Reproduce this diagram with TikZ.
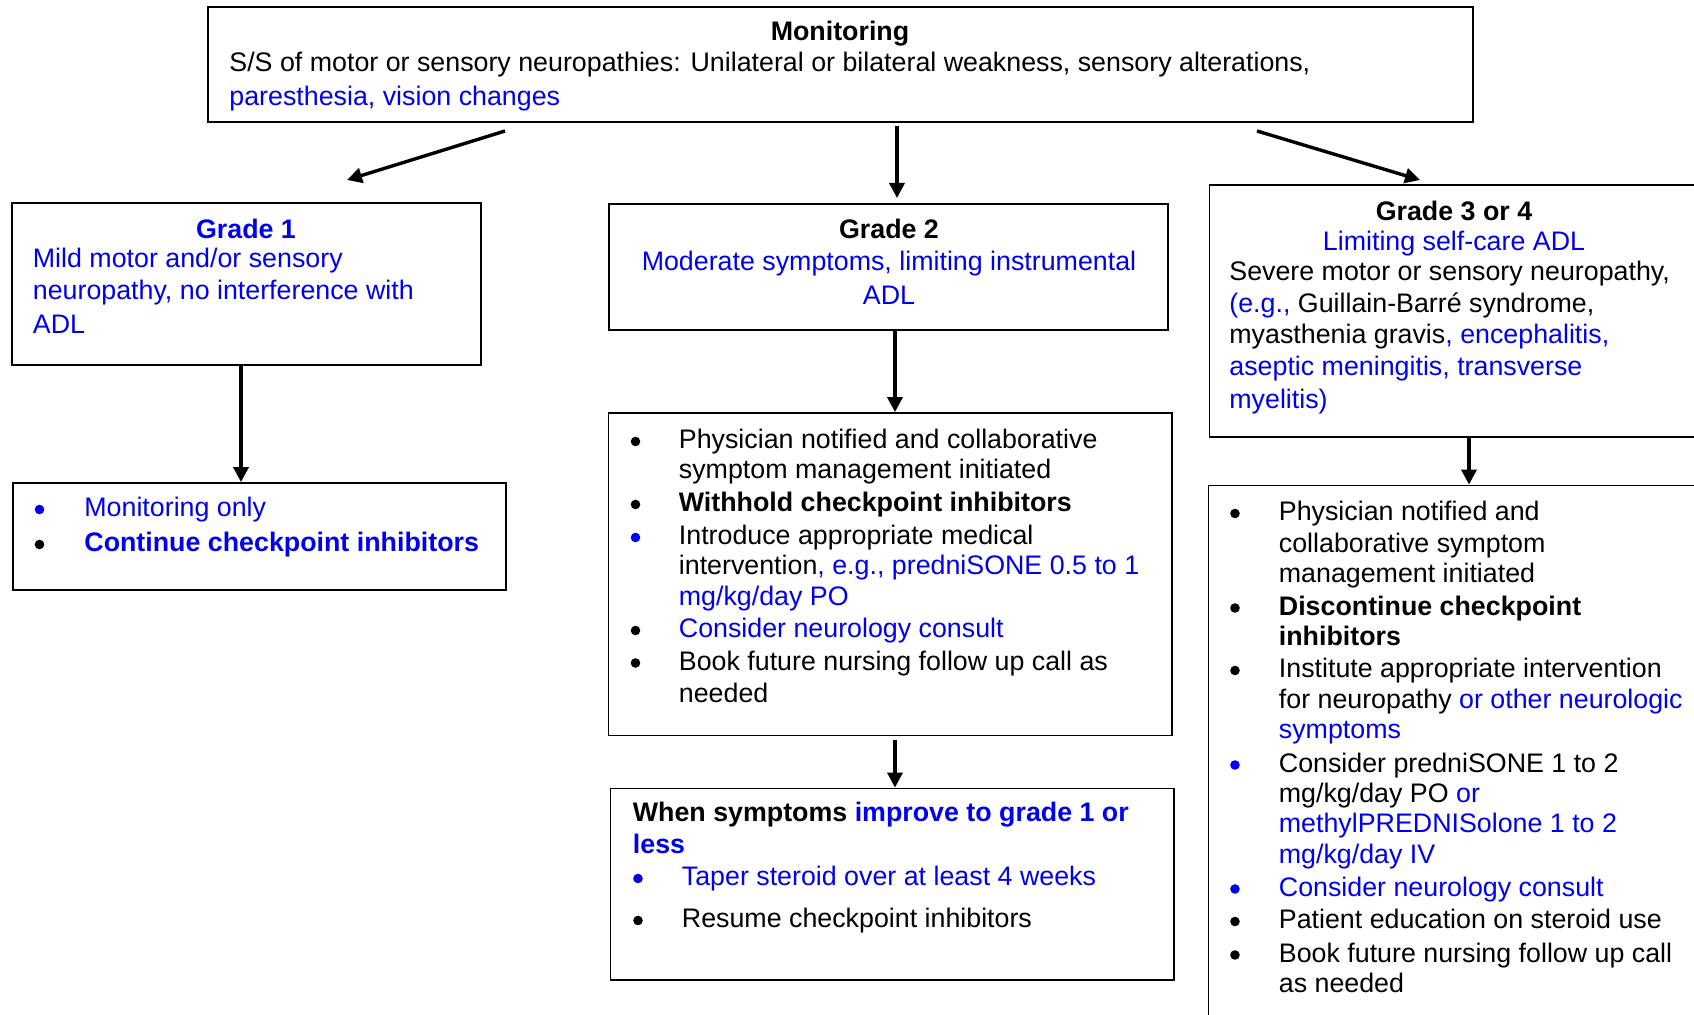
\documentclass[tikz,border=0pt]{standalone}
\usepackage{fontspec}
\setmainfont{Liberation Sans}
\usetikzlibrary{arrows.meta,fit}
\definecolor{hl}{RGB}{0,0,240}
\tikzset{
  box/.style={draw, line width=0.9pt, inner sep=0pt},
  txt/.style={anchor=base west, inner sep=0pt, font=\fontsize{13.4}{16}\selectfont},
  ctxt/.style={anchor=base, inner sep=0pt, font=\fontsize{13.4}{16}\selectfont},
  arr/.style={line width=1.7pt, -{Triangle[length=7.5pt,width=7.5pt]}},
}
% bullet dot: optional colour, x, baseline y of its line
\newcommand\bul[3][black]{\fill[#1] (#2,#3-7.5) circle (4.8);}
\begin{document}
\begin{tikzpicture}[x=0.5pt, y=-0.5pt]
\useasboundingbox (0,0) rectangle (1694,1015);
\clip (0,0) rectangle (1694,1015);

% ---------- boxes ----------
\node[box, fit={(208,7) (1473,122)}] (mon) {};
\node[box, fit={(12,203) (481,365)}] (g1) {};
\node[box, fit={(609,204) (1168,330)}] (g2) {};
\node[box, fit={(1209.5,185) (1710,437)}] (g3) {};
\node[box, fit={(13,483) (506,590)}] (g1b) {};
\node[box, fit={(608.5,413) (1172,735.5)}] (g2b) {};
\node[box, fit={(610.5,788.5) (1174,980)}] (g2c) {};
\node[box, fit={(1208.5,485.5) (1710,1040)}] (g3b) {};

% ---------- Monitoring ----------
\node[ctxt] (mon1) at (840,41) {\bfseries Monitoring};
\node[txt] (mon2) at (229,72) {S/S of motor or sensory neuropathies: Unilateral or bilateral weakness, sensory alterations,};
\node[txt, text=hl] (mon3) at (229,106) {paresthesia, vision changes};

% ---------- Grade 1 ----------
\node[ctxt, text=hl] (g1t) at (246,239) {\bfseries Grade 1};
\node[txt, text=hl] (g1l1) at (32.5,268) {Mild motor and/or sensory};
\node[txt, text=hl] (g1l2) at (32.5,300) {neuropathy, no interference with};
\node[txt, text=hl] (g1l3) at (32.5,334) {ADL};

\bul[hl]{39.5}{517}
\node[txt, text=hl] (g1b1) at (84,517) {Monitoring only};
\bul{39.5}{552}
\node[txt, text=hl] (g1b2) at (84,552) {\bfseries Continue checkpoint inhibitors};

% ---------- Grade 2 ----------
\node[ctxt] (g2t) at (889,239) {\bfseries Grade 2};
\node[ctxt, text=hl] (g2l1) at (889,271) {Moderate symptoms, limiting instrumental};
\node[ctxt, text=hl] (g2l2) at (889,305) {ADL};

\bul{635.5}{449}
\node[txt] (g2b1) at (678.5,449) {Physician notified and collaborative};
\node[txt] (g2b1b) at (678.5,479) {symptom management initiated};
\bul{635.5}{512}
\node[txt] (g2b2) at (678.5,512) {\bfseries Withhold checkpoint inhibitors};
\bul[hl]{635.5}{545}
\node[txt] (g2b3) at (678.5,545) {Introduce appropriate medical};
\node[txt] (g2b3b) at (678.5,575) {intervention{\color{hl}, e.g., predniSONE 0.5 to 1}};
\node[txt, text=hl] (g2b3c) at (678.5,606) {mg/kg/day PO};
\bul{635.5}{638}
\node[txt, text=hl] (g2b4) at (678.5,638) {Consider neurology consult};
\bul{635.5}{670.5}
\node[txt] (g2b5) at (678.5,670.5) {Book future nursing follow up call as};
\node[txt] (g2b5b) at (678.5,703) {needed};

\node[txt] (g2c1) at (632.5,822) {\bfseries When symptoms {\color{hl}improve to grade 1 or}};
\node[txt, text=hl] (g2c2) at (632.5,854) {\bfseries less};
\bul[hl]{638}{886}
\node[txt, text=hl] (g2c3) at (681.5,886) {Taper steroid over at least 4 weeks};
\bul{638}{928}
\node[txt] (g2c4) at (681.5,928) {Resume checkpoint inhibitors};

% ---------- Grade 3 or 4 ----------
\node[ctxt] (g3t) at (1454,221) {\bfseries Grade 3 or 4};
\node[ctxt, text=hl] (g3l1) at (1454,251) {Limiting self-care ADL};
\node[txt] (g3l2) at (1229,281) {Severe motor or sensory neuropathy,};
\node[txt] (g3l3) at (1229,313) {{\color{hl}(e.g.,} Guillain-Barré syndrome,};
\node[txt] (g3l4) at (1229,344) {myasthenia gravis{\color{hl}, encephalitis,}};
\node[txt, text=hl] (g3l5) at (1229,376) {aseptic meningitis, transverse};
\node[txt, text=hl] (g3l6) at (1229,409) {myelitis)};

\bul{1235}{521}
\node[txt] (g3b1) at (1278.5,521) {Physician notified and};
\node[txt] (g3b1b) at (1278.5,553) {collaborative symptom};
\node[txt] (g3b1c) at (1278.5,583) {management initiated};
\bul{1235}{615.5}
\node[txt] (g3b2) at (1278.5,615.5) {\bfseries Discontinue checkpoint};
\node[txt] (g3b2b) at (1278.5,645.5) {\bfseries inhibitors};
\bul{1235}{678}
\node[txt] (g3b3) at (1278.5,678) {Institute appropriate intervention};
\node[txt] (g3b3b) at (1278.5,708.5) {for neuropathy {\color{hl}or other neurologic}};
\node[txt, text=hl] (g3b3c) at (1278.5,739) {symptoms};
\bul[hl]{1235}{772.5}
\node[txt] (g3b4) at (1278.5,772.5) {Consider predniSONE 1 to 2};
\node[txt] (g3b4b) at (1278.5,803) {mg/kg/day PO {\color{hl}or}};
\node[txt, text=hl] (g3b4c) at (1278.5,833) {methylPREDNISolone 1 to 2};
\node[txt, text=hl] (g3b4d) at (1278.5,864) {mg/kg/day IV};
\bul[hl]{1235}{896.5}
\node[txt, text=hl] (g3b5) at (1278.5,896.5) {Consider neurology consult};
\bul{1235}{929}
\node[txt] (g3b6) at (1278.5,929) {Patient education on steroid use};
\bul{1235}{962.5}
\node[txt] (g3b7) at (1278.5,962.5) {Book future nursing follow up call};
\node[txt] (g3b7b) at (1278.5,992.5) {as needed};

% ---------- connectors ----------
\coordinate (m1s) at (505,131);
\coordinate (m1e) at (347,180);
\coordinate (m2s) at (897,126);
\coordinate (m2e) at (897,198);
\coordinate (m3s) at (1257,131);
\coordinate (m3e) at (1420,180);
\coordinate (c2s) at (895,740);
\draw[arr] (m1s) -- (m1e);
\draw[arr] (m2s) -- (m2e);
\draw[arr] (m3s) -- (m3e);
\draw[arr] (241,0 |- g1.south) -- (241,0 |- g1b.north);
\draw[arr] (895,0 |- g2.south) -- (895,0 |- g2b.north);
\draw[arr] (c2s) -- (895,0 |- g2c.north);
\draw[arr] (1469,0 |- g3.south) -- (1469,0 |- g3b.north);
\end{tikzpicture}
\end{document}
